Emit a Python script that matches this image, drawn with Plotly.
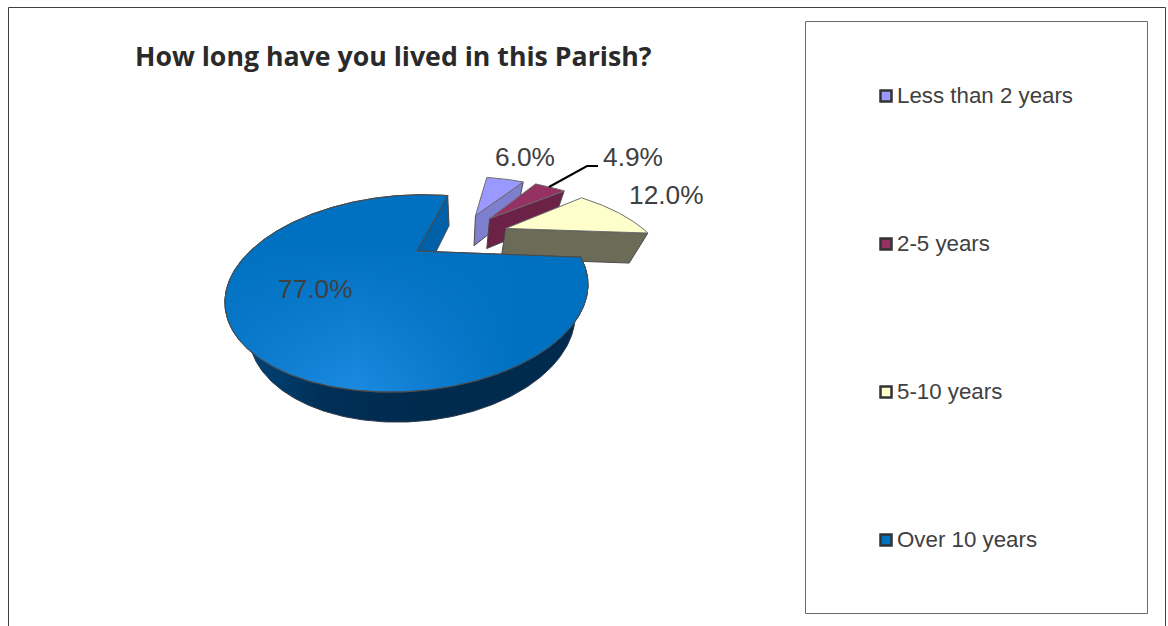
import numpy as np
import plotly.graph_objects as go

categories = ["Less than 2 years", "2-5 years", "5-10 years", "Over 10 years"]
values = [6.0, 4.9, 12.0, 77.0]
value_labels = ["6.0%", "4.9%", "12.0%", "77.0%"]

title_text = "How long have you lived in this Parish?"
top_colors = ["#9999ff", "#953163", "#ffffcc", "#0070c0"]
wall_colors = ["#7f7fcf", "#6c2247", "#6b6b57", "#0060a8"]
explode = [(0.378, 0.565), (0.483, 0.518), (0.585, 0.352), (0.0, 0.0)]
label_pos = [(524.5, 157), (632.5, 157), (666, 195), (315.5, 289)]
legend_y = [96, 244, 392, 540]

START_ANGLE = 81.5
X0, Y0 = 417.0, 251.0
A, S, T, B, M, K = 162.4, 20.0, 4.0, 80.4, 0.0, 0.43
VP_X, SHRINK, DEPTH = 461.0, 0.10, 30.0


def project(u, v):
    w = 1 + M * np.asarray(u) + K * np.asarray(v)
    return X0 + (A * np.asarray(u) + S * np.asarray(v)) / w, Y0 + (T * np.asarray(u) - B * np.asarray(v)) / w


def lower(x, y):
    return x + SHRINK * (VP_X - x), y + DEPTH


def disc(a0, a1, off):
    t = np.radians(np.linspace(a0, a1, max(int(abs(a1 - a0)) * 2, 2)))
    return project(np.cos(t) + off[0], np.sin(t) + off[1])


def poly(x, y, fill=None, grad=None, line="#4a4a4a", width=1):
    kw = dict(fillgradient=grad) if grad else dict(fillcolor=fill)
    return go.Scatter(x=list(x) + [x[0]], y=list(y) + [y[0]], mode="lines", fill="toself",
                      line=dict(color=line, width=width), hoverinfo="skip", showlegend=False, **kw)


fig = go.Figure()
total = sum(values)
sweeps = [v / total * 360 for v in values]
bounds = START_ANGLE - np.cumsum([0] + sweeps)

# rear wall of the large slice, drawn first
big = 3
ax, ay = project(*explode[big])
rx, ry = disc(bounds[big + 1] + 360, bounds[big + 1] + 360, explode[big])
x0b, y0b = lower(ax, ay)
x1b, y1b = lower(rx[0], ry[0])
fig.add_trace(poly([float(ax), rx[0], x1b, x0b], [float(ay), ry[0], y1b, y0b], fill=wall_colors[big]))

# exploded slices, back to front
for i in range(3):
    ax, ay = project(*explode[i])
    rx, ry = disc(bounds[i], bounds[i + 1], explode[i])
    bxa, bya = lower(ax, ay)
    bxr, byr = lower(rx[-1], ry[-1])
    fig.add_trace(poly([float(ax), rx[-1], bxr, float(bxa)], [float(ay), ry[-1], byr, float(bya)], fill=wall_colors[i]))
    fig.add_trace(poly([float(ax)] + list(rx), [float(ay)] + list(ry), fill=top_colors[i], line="#6e6e6e"))

# front wall of the large slice
fx, fy = disc(bounds[big], -172.0, explode[big])
lx, ly = lower(fx, fy)
fig.add_trace(poly(list(fx) + list(lx[::-1]), list(fy) + list(ly[::-1]), line="#2a3a4a",
                   grad=dict(type="horizontal", colorscale=[[0, "#004a80"], [0.28, "#012f56"], [0.55, "#002a4e"], [1, "#002a4e"]])))

# top of the large slice
ax, ay = project(*explode[big])
rx, ry = disc(bounds[big], bounds[big + 1], explode[big])
top_x = [float(ax)] + list(rx)
top_y = [float(ay)] + list(ry)
fig.add_trace(poly(top_x, top_y, grad=dict(type="vertical", colorscale=[[0, "#1c8ae0"], [0.75, "#0070c0"], [1, "#0070c0"]])))
fig.add_trace(poly(top_x, top_y, line="#4a4a4a", grad=dict(type="horizontal", colorscale=[
    [0, "rgba(0,112,192,0.6)"], [0.36, "rgba(0,112,192,0)"], [0.8, "rgba(0,112,192,1)"], [1, "rgba(0,112,192,1)"]])))

# leader line of the 4.9% label
fig.add_trace(go.Scatter(x=[549, 587, 598], y=[187, 166, 166], mode="lines",
                         line=dict(color="#000000", width=2), hoverinfo="skip", showlegend=False))

# legend swatches
fig.add_trace(go.Scatter(x=[886] * 4, y=legend_y, mode="markers", hoverinfo="skip", showlegend=False,
                         marker=dict(symbol="square", size=11, color=top_colors, line=dict(color="#333333", width=2.5))))

text_font = dict(family="Liberation Sans, Arial, sans-serif", color="#404040")
annotations = [dict(x=x, y=y, text=t, showarrow=False, xanchor="center", yanchor="middle",
                    font=dict(size=26.3, **text_font)) for (x, y), t in zip(label_pos, value_labels)]
annotations += [dict(x=895, y=y - 1, text=c, showarrow=False, xanchor="left", yanchor="middle",
                     font=dict(size=22.3, **text_font)) for c, y in zip(categories, legend_y)]
annotations.append(dict(x=393, y=55, text="<b>" + title_text + "</b>", showarrow=False, xanchor="center",
                        yanchor="middle", font=dict(size=26.7, family="Open Sans, sans-serif", color="#2a2a2a")))

frame = dict(color="#404040", width=1)
shapes = [
    dict(type="line", x0=8.5, y0=7.5, x1=1165.5, y1=7.5, line=frame),
    dict(type="line", x0=8.5, y0=7.5, x1=8.5, y1=626, line=frame),
    dict(type="line", x0=1165.5, y0=7.5, x1=1165.5, y1=626, line=frame),
    dict(type="rect", x0=805.5, y0=21.5, x1=1147.5, y1=613.5, line=dict(color="#6a6a6a", width=1)),
]

fig.update_layout(width=1168, height=626, margin=dict(l=0, r=0, t=0, b=0), paper_bgcolor="white",
                  plot_bgcolor="white", showlegend=False, annotations=annotations, shapes=shapes,
                  xaxis=dict(range=[0, 1168], visible=False, fixedrange=True),
                  yaxis=dict(range=[626, 0], visible=False, fixedrange=True))
fig.write_html("out.html", post_script="document.body.style.margin='0';document.documentElement.style.overflow='hidden';",
               config=dict(displayModeBar=False))
